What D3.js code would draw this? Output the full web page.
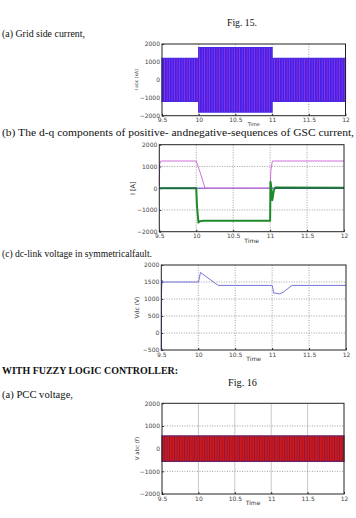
<!DOCTYPE html>
<html>
<head>
<meta charset="utf-8">
<script src="https://cdn.jsdelivr.net/npm/d3@7"></script>
<style>
    body { margin: 0; background: #fff; }
    svg { display: block; }
    .para { font-family: "Liberation Serif", serif; font-size: 11px; fill: #111; }
    .tick text { font-family: "DejaVu Sans", sans-serif; font-size: 6px; fill: #444; }
    .lbl { font-family: "DejaVu Sans", sans-serif; font-size: 6px; fill: #333; }
</style>
</head>
<body>
<script>
// ---- data ----
const timeTicks = [9.5, 10, 10.5, 11, 11.5, 12];
const timeTickLabels = ["9.5", "10", "10.5", "11", "11.5", "12"];
const currentTicks = [-2000, -1000, 0, 1000, 2000];
const vdcTicks = [-500, 0, 500, 1000, 1500, 2000];

// Fig 15 (a) grid side current, envelope of the three phases
const gridCurT   = [9.5, 10.0, 10.0, 11.0, 11.0, 12.0];
const gridCurAmp = [1200, 1200, 1800, 1800, 1200, 1200];

// Fig 15 (b) d-q components
const idPosT = [9.5, 9.505, 9.52, 10.0, 10.02, 10.06, 10.12, 11.0, 11.01, 11.03, 12.0];
const idPosV = [100, 1100, 1250, 1250, 1050, 650, 0, 0, 800, 1250, 1250];
const iqPosT = [9.5, 10.0, 10.01, 10.03, 10.05, 10.1, 11.0, 11.005, 11.01, 11.03, 11.05, 11.07, 12.0];
const iqPosV = [0, 0, -800, -1580, -1520, -1500, -1500, 300, 200, -550, -100, 30, 20];
const idNegT = [9.5, 10.0, 10.0, 11.07, 12.0];
const idNegV = [0, 0, null, 0, 0];
const iqNegT = [9.5, 12.0];
const iqNegV = [0, 0];

// Fig 15 (c) dc-link voltage
const vdcT = [9.5, 9.503, 9.51, 9.52, 10.0, 10.01, 10.03, 10.27, 11.0, 11.01, 11.02, 11.05, 11.1, 11.15, 11.27, 12.0];
const vdcV = [-500, 1200, 1560, 1500, 1500, 1560, 1780, 1400, 1400, 1300, 1180, 1170, 1150, 1200, 1400, 1400];

// Fig 16 (a) PCC voltage envelope
const pccT   = [9.5, 12.0];
const pccAmp = [560, 560];

// ---- text lines ----
const paragraphs = [
    {t: "Fig. 15.", x: 227, y: 26, w: 30},
    {t: "(a) Grid side current,", x: 2, y: 36.5, w: 83},
    {t: "(b) The d-q components of positive- andnegative-sequences of GSC current,", x: 2, y: 136, w: 352},
    {t: "(c) dc-link voltage in symmetricalfault.", x: 2, y: 257, w: 150},
    {t: "WITH FUZZY LOGIC CONTROLLER:", x: 2, y: 374, w: 176, bold: true},
    {t: "Fig. 16", x: 228, y: 385.5, w: 29},
    {t: "(a) PCC voltage,", x: 2, y: 398, w: 71}
];

const svg = d3.select("body").append("svg")
    .attr("width", 356)
    .attr("height", 518);

svg.append("rect").attr("width", 356).attr("height", 518).attr("fill", "#fff");

const defs = svg.append("defs");

// stripes that stand in for the dense 50 Hz waveform
const pBlue = defs.append("pattern").attr("id", "stripeBlue")
    .attr("patternUnits", "userSpaceOnUse").attr("width", 2.5).attr("height", 6);
pBlue.append("rect").attr("width", 2.5).attr("height", 6).attr("fill", "#3f22ec");
pBlue.append("rect").attr("x", 1.7).attr("width", 0.8).attr("height", 6).attr("fill", "#9a30d8");

const pRed = defs.append("pattern").attr("id", "stripeRed")
    .attr("patternUnits", "userSpaceOnUse").attr("width", 2.5).attr("height", 6);
pRed.append("rect").attr("width", 2.5).attr("height", 6).attr("fill", "#d41616");
pRed.append("rect").attr("x", 1.7).attr("width", 0.8).attr("height", 6).attr("fill", "#7e1c48");

paragraphs.forEach(function(p){
    svg.append("text")
        .attr("class", "para")
        .attr("x", p.x)
        .attr("y", p.y)
        .attr("textLength", p.w)
        .attr("lengthAdjust", "spacingAndGlyphs")
        .style("font-weight", p.bold ? "bold" : "normal")
        .text(p.t);
});

function panel(opt){
    const x = d3.scaleLinear().domain([9.5, 12]).range([opt.left, opt.right]);
    const y = d3.scaleLinear().domain(opt.yDomain).range([opt.bottom, opt.top]);
    const g = svg.append("g");

    // grid
    g.selectAll(".vg").data(timeTicks.slice(1, -1)).enter().append("line")
        .attr("x1", d => x(d)).attr("x2", d => x(d))
        .attr("y1", opt.top).attr("y2", opt.bottom)
        .attr("stroke", opt.solidVGrid ? "#c8c8c8" : "#777")
        .attr("stroke-width", opt.solidVGrid ? 1 : 0.7)
        .attr("stroke-dasharray", opt.solidVGrid ? null : "1,1.5");
    g.selectAll(".hg").data(opt.yTicks.slice(1, -1)).enter().append("line")
        .attr("x1", opt.left).attr("x2", opt.right)
        .attr("y1", d => y(d)).attr("y2", d => y(d))
        .attr("stroke", "#777")
        .attr("stroke-width", 0.7)
        .attr("stroke-dasharray", "1,1.5");

    const xAxis = d3.axisBottom(x).tickValues(timeTicks)
        .tickFormat((d, i) => timeTickLabels[i]).tickSizeInner(-2).tickSizeOuter(0).tickPadding(2.5);
    const yAxis = d3.axisLeft(y).tickValues(opt.yTicks).tickFormat(d3.format("d"))
        .tickSizeInner(-2).tickSizeOuter(0).tickPadding(2);

    g.append("g").attr("transform", "translate(0," + opt.bottom + ")").call(xAxis)
        .call(a => a.select(".domain").remove());
    g.append("g").attr("transform", "translate(" + opt.left + ",0)").call(yAxis)
        .call(a => a.select(".domain").remove());
    g.selectAll(".tick line").attr("stroke", "#333");

    g.append("text").attr("class", "lbl")
        .attr("x", (opt.left + opt.right) / 2)
        .attr("y", opt.bottom + (opt.timeDy || 11))
        .attr("text-anchor", "middle")
        .style("font-size", (opt.timeSize || 6) + "px")
        .text("Time");
    g.append("text").attr("class", "lbl")
        .attr("transform", "translate(" + opt.yLabelX + "," + ((opt.top + opt.bottom) / 2) + ") rotate(-90)")
        .attr("text-anchor", "middle")
        .style("font-size", opt.yLabelSize + "px")
        .text(opt.yLabel);

    const body = g.append("g");
    g.append("rect")
        .attr("x", opt.left).attr("y", opt.top)
        .attr("width", opt.right - opt.left).attr("height", opt.bottom - opt.top)
        .attr("fill", "none").attr("stroke", "#222").attr("stroke-width", 1);
    return {x: x, y: y, body: body};
}

function band(p, ts, amps, fill, edge){
    const pts = ts.map((t, i) => ({t: t, a: amps[i]}));
    p.body.append("path")
        .datum(pts)
        .attr("d", d3.area().x(d => p.x(d.t)).y0(d => p.y(-d.a)).y1(d => p.y(d.a)))
        .attr("fill", fill)
        .attr("stroke", edge)
        .attr("stroke-width", 1.2);
}

function series(p, ts, vs, color, width){
    const pts = ts.map((t, i) => ({t: t, v: vs[i]}));
    p.body.append("path")
        .datum(pts)
        .attr("d", d3.line().defined(d => d.v !== null).x(d => p.x(d.t)).y(d => p.y(d.v)))
        .attr("fill", "none")
        .attr("stroke", color)
        .attr("stroke-width", width)
        .attr("stroke-linejoin", "round");
}

// Fig 15 (a)
const p1 = panel({left: 162, right: 345.5, top: 44, bottom: 115.7, yDomain: [-2000, 2000],
    yTicks: currentTicks, yLabel: "I abc (kA)", yLabelX: 138, yLabelSize: 4.5,
    timeDy: 10.2, timeSize: 5});
band(p1, gridCurT, gridCurAmp, "url(#stripeBlue)", "#4a2ae0");

// Fig 15 (b)
const p2 = panel({left: 159.3, right: 344, top: 144.7, bottom: 231.7, yDomain: [-2000, 2000],
    yTicks: currentTicks, yLabel: "I [A]", yLabelX: 135, yLabelSize: 6.5});
series(p2, iqNegT, iqNegV, "#6a3fd0", 1);
series(p2, idPosT, idPosV, "#d070d8", 1);
series(p2, iqPosT, iqPosV, "#1e8a2a", 2);
series(p2, idNegT, idNegV, "#1f5a5a", 1);

// Fig 15 (c)
const p3 = panel({left: 161.3, right: 346, top: 265, bottom: 350, yDomain: [-500, 2000],
    yTicks: vdcTicks, yLabel: "Vdc (V)", yLabelX: 139, yLabelSize: 6});
series(p3, vdcT, vdcV, "#7474dc", 1);

// Fig 16 (a)
const p4 = panel({left: 162, right: 344, top: 403.3, bottom: 494, yDomain: [-2000, 2000],
    yTicks: currentTicks, yLabel: "V abc (f)", yLabelX: 139, yLabelSize: 5.5, solidVGrid: true});
band(p4, pccT, pccAmp, "url(#stripeRed)", "#6a2060");
</script>
</body>
</html>
